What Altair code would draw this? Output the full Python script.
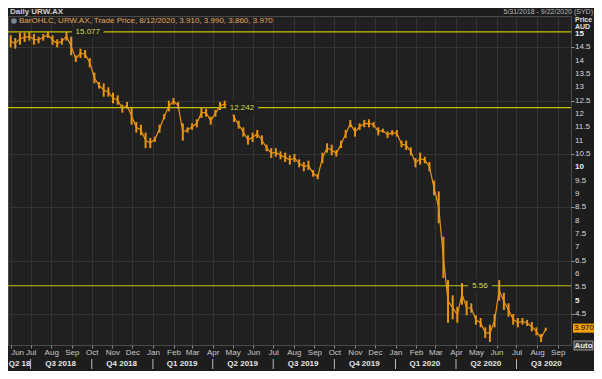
import altair as alt
import pandas as pd

# ---- data (weekly high/low) ----
first_week = "2018-06-01"
lows = [14.5, 14.45, 14.6, 14.7, 14.75, 14.6, 14.65, 14.75, 14.85, 14.6, 14.5, 14.6, 14.75,
        14.2, 13.95, 14.1, 14.1, 13.75, 13.15, 12.95, 12.65, 12.65, 12.4, 12.35, 12.05, 12.2, 11.6,
        11.3, 11.2, 10.72, 10.72, 10.95, 11.3, 11.8, 12.1, 12.35, 12.2,
        11.0, 11.3, 11.4, 11.5, 11.85, 11.9, 11.6, 11.9, 12.15, 12.25, 12.15, 11.7, 11.45, 11.15,
        10.85, 10.95, 11.1, 10.85, 10.6, 10.35, 10.4, 10.3, 10.2, 10.1, 10.2, 10.0,
        9.85, 9.9, 9.65, 9.55, 10.15, 10.55, 10.45, 10.4, 10.72, 11.1, 11.5, 11.15, 11.4, 11.5,
        11.5, 11.5, 11.2, 11.3, 11.1, 11.2, 11.15, 10.75, 10.65, 10.45, 10.0, 10.1, 10.15, 9.85,
        8.95, 7.9, 5.85, 4.17, 4.3, 4.17, 4.85, 4.45, 4.55, 4.1, 4.0, 3.6, 3.45, 4.0,
        5.0, 4.65, 4.4, 4.1, 4.0, 4.1, 4.05, 3.85, 3.7, 3.45, 3.86]
highs = [14.95, 14.85, 15.05, 15.05, 15.07, 15.0, 14.9, 15.0, 15.08, 14.95, 14.8, 14.85, 15.08,
         14.9, 14.2, 14.45, 14.4, 14.1, 13.55, 13.2, 13.15, 13.0, 12.8, 12.7, 12.35, 12.45, 12.25,
         11.7, 11.6, 11.3, 11.1, 11.15, 11.6, 12.0, 12.5, 12.6, 12.45,
         11.65, 11.5, 11.65, 11.8, 12.25, 12.2, 11.9, 12.15, 12.45, 12.5, 12.45, 12.05, 11.75, 11.5,
         11.2, 11.3, 11.4, 11.2, 10.85, 10.72, 10.72, 10.6, 10.55, 10.45, 10.5, 10.3,
         10.2, 10.25, 9.9, 9.75, 10.55, 10.9, 10.85, 10.65, 11.0, 11.4, 11.78, 11.5, 11.65, 11.78,
         11.8, 11.7, 11.5, 11.45, 11.35, 11.4, 11.4, 11.0, 11.0, 10.75, 10.35, 10.55, 10.4, 10.2,
         9.5, 9.1, 7.4, 5.77, 5.2, 4.77, 5.66, 5.0, 4.9, 4.45, 4.35, 4.0, 4.1, 4.5,
         5.78, 5.3, 4.9, 4.5, 4.35, 4.35, 4.28, 4.2, 4.0, 3.75, 3.99]

levels = [15.077, 12.242, 5.56]
level_labels = ["15.077", "12.242", "5.56"]
level_label_dates = ["2018-09-25", "2019-05-15", "2020-05-07"]

last_price = [3.97]
last_label = ["3.970"]

first_quarter_name = ["Q2 18"]
first_quarter_pos = ["2018-05-29"]
quarter_names = ["Q3 2018", "Q4 2018", "Q1 2019", "Q2 2019", "Q3 2019",
                 "Q4 2019", "Q1 2020", "Q2 2020", "Q3 2020"]
quarter_mids = ["2018-08-15", "2018-11-15", "2019-02-14", "2019-05-16",
                "2019-08-15", "2019-11-15", "2020-02-14", "2020-05-16", "2020-08-15"]
quarter_bounds = ["2018-07-01", "2018-10-01", "2019-01-01", "2019-04-01", "2019-07-01",
                  "2019-10-01", "2020-01-01", "2020-04-01", "2020-07-01"]
y_ticks = [4.5, 5, 5.5, 6, 6.5, 7, 7.5, 8, 8.5, 9, 9.5, 10, 10.5, 11, 11.5, 12, 12.5,
           13, 13.5, 14, 14.5, 15]
y_tick_labels = ["4.5", "5", "5.5", "6", "6.5", "7", "7.5", "8", "8.5", "9", "9.5", "10",
                 "10.5", "11", "11.5", "12", "12.5", "13", "13.5", "14", "14.5", "15"]

# ---- style ----
BG = "#1d1d1d"
PLOT_BG = "#202020"
GRID = "#343434"
ORANGE = "#e8940f"
YEL = "#c4c000"
YEL_TXT = "#d2dc46"
FONT = "Liberation Sans"
W, H = 563, 329

df = pd.DataFrame({"date": pd.date_range(first_week, periods=len(lows), freq="7D").strftime("%Y-%m-%d"),
                   "low": lows, "high": highs})
lev_df = pd.DataFrame({"level": levels, "label": level_labels, "d": level_label_dates})
q_df = pd.DataFrame({"q": quarter_names, "d": quarter_mids})
q0_df = pd.DataFrame({"q": first_quarter_name, "d": first_quarter_pos})
b_df = pd.DataFrame({"d": quarter_bounds})
last_df = pd.DataFrame({"p": last_price, "t": last_label})
yt_df = pd.DataFrame({"v": y_ticks, "lab": y_tick_labels})
one = pd.DataFrame({"a": [0]})

xscale = alt.Scale(domain=[alt.DateTime(year=2018, month=5, date=28),
                           alt.DateTime(year=2020, month=9, date=21)])
yscale = alt.Scale(domain=[3.3375, 15.675], nice=False, zero=False)

xaxis = alt.Axis(tickCount={"interval": "month", "step": 1}, format="%b", labelFontSize=8,
                 labelColor="#c8c8c8", tickSize=3, tickColor="#888", grid=True, gridColor=GRID,
                 domain=False, labelPadding=0, labelFont=FONT, labelOverlap=False,
                 labelAlign={"condition": {"test": "datum.value < datetime(2018, 5, 20)", "value": "left"},
                             "value": "center"})
yaxis = alt.Axis(orient="right", values=y_ticks, labels=False, tickSize=3, tickColor="#999",
                 grid=True, gridColor=GRID, domain=False)

X = alt.X("date:T", scale=xscale, axis=xaxis, title=None)

bars = alt.Chart(df).mark_rule(color=ORANGE, strokeWidth=2).encode(
    x=X, y=alt.Y("low:Q", scale=yscale, axis=yaxis, title=None), y2="high:Q")
mid = alt.Chart(df).transform_calculate(mid="(datum.low + datum.high) / 2").mark_line(
    color=ORANGE, strokeWidth=1.2).encode(x="date:T", y="mid:Q")

# y tick labels (bold for multiples of 5)
ylab_n = alt.Chart(yt_df).transform_filter("datum.v % 5 !== 0").mark_text(
    fontSize=8, font=FONT, color="#d8d8d8", align="left", baseline="middle").encode(
    x=alt.value(W + 4), y="v:Q", text="lab:N")
ylab_b = alt.Chart(yt_df).transform_filter("datum.v % 5 === 0").mark_text(
    fontSize=8, font=FONT, fontWeight="bold", color="#ececec", align="left", baseline="middle").encode(
    x=alt.value(W + 4), y="v:Q", text="lab:N")

hlines = alt.Chart(lev_df).mark_rule(color=YEL, strokeWidth=1.2).encode(y="level:Q")
halo = alt.Chart(lev_df).mark_text(fontSize=8, font=FONT, stroke=PLOT_BG, strokeWidth=9,
                                   strokeJoin="round", color=PLOT_BG).encode(
    x="d:T", y="level:Q", text="label:N")
htext = alt.Chart(lev_df).mark_text(fontSize=8, font=FONT, color=YEL_TXT).encode(
    x="d:T", y="level:Q", text="label:N")

qtext = alt.Chart(q_df).mark_text(fontSize=8, font=FONT, fontWeight="bold", color="#e6e6e6",
                                  baseline="middle").encode(x="d:T", y=alt.value(H + 19), text="q:N")
q0text = alt.Chart(q0_df).mark_text(fontSize=8, font=FONT, fontWeight="bold", color="#e6e6e6",
                                    baseline="middle", align="left").encode(
    x="d:T", y=alt.value(H + 19), text="q:N")
qsep = alt.Chart(b_df).mark_rule(color="#bbbbbb", strokeWidth=1).encode(
    x="d:T", y=alt.value(H + 14), y2=alt.value(H + 24))

pbox = alt.Chart(last_df).transform_calculate(t1="datum.p + 0.17", b1="datum.p - 0.17").mark_rect(
    color="#f4a100").encode(y="t1:Q", y2="b1:Q", x=alt.value(W + 2), x2=alt.value(W + 23))
ptext = alt.Chart(last_df).mark_text(fontSize=8, font=FONT, color="#000000", align="left",
                                     baseline="middle").encode(y="p:Q", x=alt.value(W + 3), text="t:N")

def label(txt, x, y, **kw):
    return alt.Chart(one).mark_text(text=txt, font=FONT, **kw).encode(x=alt.value(x), y=alt.value(y))

title = label("Daily URW.AX", 2, -8, fontSize=8, fontWeight="bold", color="#d0d0d0",
              align="left", baseline="top")
rng = label("5/31/2018 - 9/22/2020 (SYD)", W + 22, -8, fontSize=7, color="#b8b8b8",
            align="right", baseline="top")
legend = label("BarOHLC, URW.AX, Trade Price, 8/12/2020, 3.910, 3.990, 3.860, 3.970", 11, 5,
               fontSize=8, color="#e0a458", align="left", baseline="middle")
icon = alt.Chart(one).mark_point(shape="circle", filled=True, color="#9fb4c8", size=30).encode(
    x=alt.value(6), y=alt.value(5))
price = label("Price", W + 4, 4, fontSize=7, fontWeight="bold", color="#e0e0e0",
              align="left", baseline="middle")
aud = label("AUD", W + 4, 10.5, fontSize=7, fontWeight="bold", color="#e0e0e0",
            align="left", baseline="middle")
autobox = alt.Chart(one).mark_rect(fill="#3a3a3a", stroke="#9a9a9a", strokeWidth=1).encode(
    x=alt.value(W + 3), x2=alt.value(W + 22), y=alt.value(H - 4), y2=alt.value(H + 5))
autotxt = label("Auto", W + 12.5, H + 0.5, fontSize=8, fontWeight="bold", color="#e8e8e8",
                align="center", baseline="middle")

chart = alt.layer(bars, mid, hlines, halo, htext, ylab_n, ylab_b, qtext, q0text, qsep, pbox,
                  ptext, title, rng, legend, icon, price, aud, autobox, autotxt).properties(
    width=W, height=H, background=BG,
    padding={"left": 0, "top": 8, "right": 23, "bottom": 26},
    autosize=alt.AutoSizeParams(type="none"),
).configure_view(fill=PLOT_BG, stroke="#4a4a4a", strokeWidth=1)

chart.save("out.html", embed_options={"renderer": "svg", "actions": False})
